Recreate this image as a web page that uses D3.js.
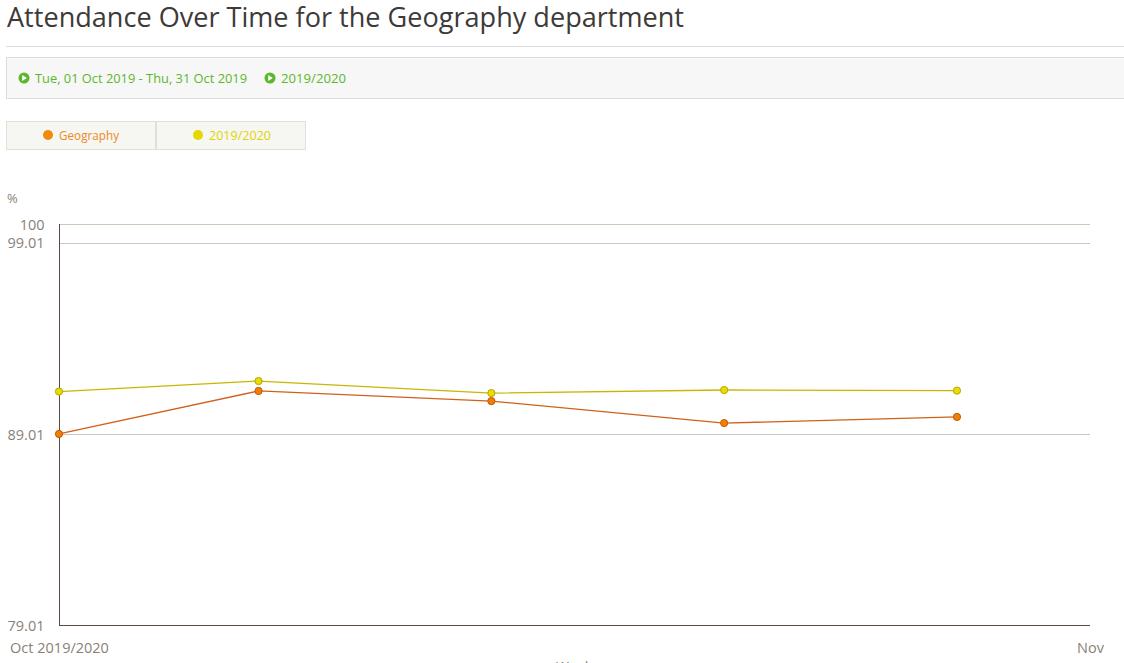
<!DOCTYPE html>
<html>
<head>
<meta charset="utf-8">
<script src="https://cdn.jsdelivr.net/npm/d3@7"></script>
<style>
  html, body { margin: 0; padding: 0; background: #fff; overflow: hidden; }
  svg { display: block; }
</style>
</head>
<body>
<svg id="chart" width="1124" height="663"></svg>
<script>
// ---- data ----
const dates = ["2019-10-01", "2019-10-07", "2019-10-14", "2019-10-21", "2019-10-28"];
const geographyValues = [89.01, 91.26, 90.73, 89.58, 89.90];
const yearValues = [91.23, 91.78, 91.15, 91.31, 91.28];
const seriesNames = ["Geography", "2019/2020"];
const yTickValues = [79.01, 89.01, 99.01, 100];
const xTickLabels = ["Oct 2019/2020", "Nov"];
const xTickDates = ["2019-10-01", "2019-11-01"];
const filterLabels = ["Tue, 01 Oct 2019 - Thu, 31 Oct 2019", "2019/2020"];
const titleText = "Attendance Over Time for the Geography department";

const parse = d3.timeParse("%Y-%m-%d");
const svg = d3.select("#chart");
const FONT = "'Open Sans', sans-serif";

// ---- header ----
svg.append("text").attr("x", 7).attr("y", 27)
  .attr("font-family", FONT).attr("font-size", 28).attr("fill", "#3d3a38")
  .attr("textLength", 677).attr("lengthAdjust", "spacingAndGlyphs")
  .text(titleText);
svg.append("line").attr("x1", 6).attr("x2", 1124).attr("y1", 46.5).attr("y2", 46.5)
  .attr("stroke", "#dcdcdc");

// filter bar
svg.append("rect").attr("x", 6.5).attr("y", 57.5).attr("width", 1130).attr("height", 41)
  .attr("fill", "#f7f7f7").attr("stroke", "#dcdcdc");
const fx = [24, 270];
const fw = [212, 65];
filterLabels.forEach((t, i) => {
  const g = svg.append("g").attr("transform", `translate(${fx[i]},78)`);
  g.append("circle").attr("r", 5.5).attr("fill", "#5cb82a");
  g.append("path").attr("d", "M-1.8,-3 L2.8,0 L-1.8,3 Z").attr("fill", "#fff");
  g.append("text").attr("x", 11).attr("y", 4.5).attr("font-family", FONT)
    .attr("font-size", 13).attr("fill", "#5cb82a")
    .attr("textLength", fw[i]).attr("lengthAdjust", "spacingAndGlyphs").text(t);
});

// legend
const color = d3.scaleOrdinal().domain(seriesNames).range(["#f38a0c", "#e3d800"]);
const legX = [6.5, 156.5];
const lw = [60, 62];
seriesNames.forEach((name, i) => {
  svg.append("rect").attr("x", legX[i]).attr("y", 121.5).attr("width", 149).attr("height", 28)
    .attr("fill", "#f6f6f3").attr("stroke", "#e0e0d8");
  svg.append("circle").attr("cx", legX[i] + 41.5).attr("cy", 135).attr("r", 5).attr("fill", color(name));
  svg.append("text").attr("x", legX[i] + 52.5).attr("y", 139.5).attr("font-family", FONT)
    .attr("font-size", 12.5).attr("fill", i === 0 ? "#f08a20" : "#e0d400")
    .attr("textLength", lw[i]).attr("lengthAdjust", "spacingAndGlyphs").text(name);
});

// ---- chart ----
const x = d3.scaleTime().domain([parse("2019-10-01"), parse("2019-11-01")]).range([59, 1090]);
const y = d3.scaleLinear().domain([79.01, 100]).range([625, 224]);

svg.append("text").attr("x", 7).attr("y", 203).attr("font-family", FONT)
  .attr("font-size", 13).attr("fill", "#8a7f78").text("%");

// gridlines
svg.append("g").selectAll("line").data(yTickValues.filter(v => v !== 79.01)).join("line")
  .attr("x1", 59).attr("x2", 1090)
  .attr("y1", d => Math.round(y(d)) + 0.5).attr("y2", d => Math.round(y(d)) + 0.5)
  .attr("stroke", "#c9c9bb").attr("stroke-width", 1);

// y axis
const yAxis = d3.axisLeft(y).tickValues(yTickValues).tickSize(0).tickPadding(15)
  .tickFormat(d => d3.format("")(d));
const yg = svg.append("g").attr("transform", "translate(59.5,0)").call(yAxis);
yg.select(".domain").attr("stroke", "#5a4a42").attr("d", `M0,${y(100)}V${625.5}`);
yg.selectAll("text").attr("font-family", FONT).attr("font-size", 14.5).attr("fill", "#8a7f78")
  .attr("dy", "0.35em");

// x axis
const xAxis = d3.axisBottom(x).tickValues(xTickDates.map(parse)).tickSize(0).tickPadding(17)
  .tickFormat((d, i) => xTickLabels[i]);
const xg = svg.append("g").attr("transform", "translate(0,625.5)").call(xAxis);
xg.select(".domain").attr("stroke", "#5a4a42").attr("d", "M59,0H1090");
xg.selectAll("text").attr("font-family", FONT).attr("font-size", 14.5).attr("fill", "#8a7f78");

// axis title (cut off at the bottom edge, as in the reference)
svg.append("text").attr("x", 574).attr("y", 672).attr("text-anchor", "middle")
  .attr("font-family", FONT).attr("font-size", 14).attr("fill", "#8a7f78").text("Week");

// lines
const series = [
  { name: seriesNames[1], values: yearValues, line: "#c9b600", fill: "#e8dc00", stroke: "#b8a600" },
  { name: seriesNames[0], values: geographyValues, line: "#d25f1a", fill: "#f28000", stroke: "#c4560e" }
];
const lineGen = d3.line().x((d, i) => x(parse(dates[i]))).y(d => y(d));
series.forEach(s => {
  svg.append("path").datum(s.values).attr("d", lineGen)
    .attr("fill", "none").attr("stroke", s.line).attr("stroke-width", 1.3);
});
series.forEach(s => {
  svg.append("g").selectAll("circle").data(s.values).join("circle")
    .attr("cx", (d, i) => x(parse(dates[i]))).attr("cy", d => y(d)).attr("r", 3.6)
    .attr("fill", s.fill).attr("stroke", s.stroke).attr("stroke-width", 1);
});
</script>
</body>
</html>
